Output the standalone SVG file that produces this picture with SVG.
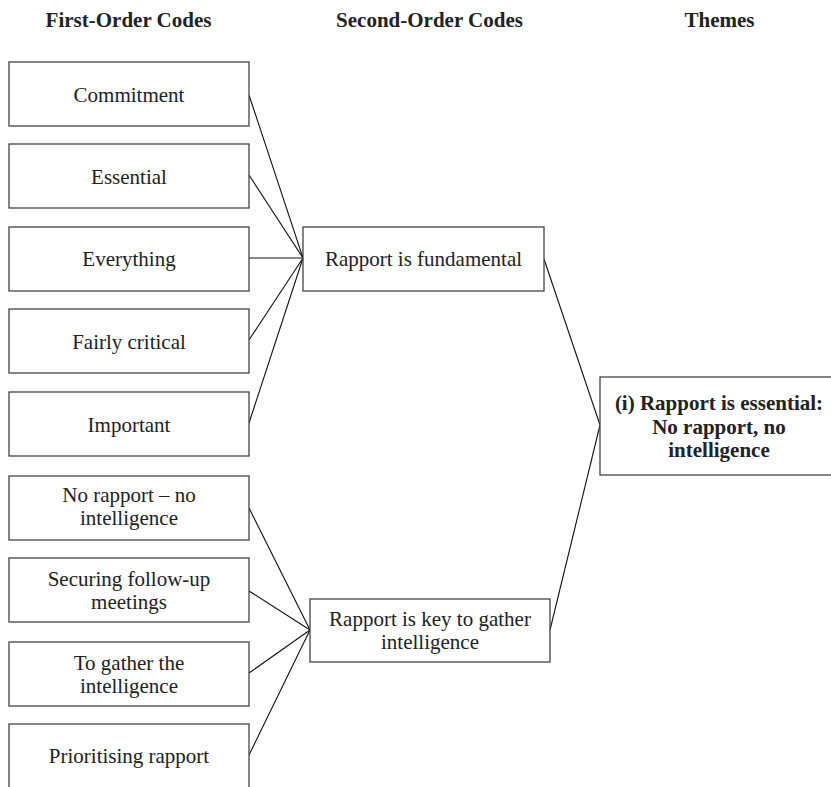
<svg xmlns="http://www.w3.org/2000/svg" width="831" height="787" viewBox="0 0 831 787">
<style>
.box{fill:#fff;stroke:#444;stroke-width:1.3}
.t{font-family:"Liberation Serif","Times New Roman",serif;font-size:21px;fill:#222;text-anchor:middle}
.h{font-family:"Liberation Serif","Times New Roman",serif;font-size:21px;font-weight:bold;fill:#222;text-anchor:middle}
.th{font-family:"Liberation Serif","Times New Roman",serif;font-size:21px;font-weight:bold;fill:#222;text-anchor:middle}
.c{stroke:#111;stroke-width:1.1;fill:none}
</style>
<rect width="831" height="787" fill="#fff"/>
<g id="headers">
<text class="h" x="128.5" y="27">First-Order Codes</text>
<text class="h" x="429.5" y="27">Second-Order Codes</text>
<text class="h" x="719.5" y="27">Themes</text>
</g>
<g id="connectors">
<line class="c" x1="249" y1="95" x2="303" y2="258"/>
<line class="c" x1="249" y1="175" x2="303" y2="258"/>
<line class="c" x1="249" y1="258" x2="303" y2="258" stroke-width="2"/>
<line class="c" x1="249" y1="340" x2="303" y2="258"/>
<line class="c" x1="249" y1="423" x2="303" y2="258"/>
<line class="c" x1="249" y1="508" x2="310" y2="630"/>
<line class="c" x1="249" y1="591" x2="310" y2="630"/>
<line class="c" x1="249" y1="673" x2="310" y2="630"/>
<line class="c" x1="249" y1="755" x2="310" y2="630"/>
<line class="c" x1="544" y1="259" x2="600" y2="425"/>
<line class="c" x1="550" y1="630" x2="600" y2="425"/>
</g>
<g id="n1"><rect class="box" x="9" y="62" width="240" height="64"/><text class="t" x="129" y="101.5">Commitment</text></g>
<g id="n2"><rect class="box" x="9" y="144" width="240" height="64"/><text class="t" x="129" y="183.5">Essential</text></g>
<g id="n3"><rect class="box" x="9" y="227" width="240" height="64"/><text class="t" x="129" y="266">Everything</text></g>
<g id="n4"><rect class="box" x="9" y="309" width="240" height="64"/><text class="t" x="129" y="348.5">Fairly critical</text></g>
<g id="n5"><rect class="box" x="9" y="392" width="240" height="64"/><text class="t" x="129" y="431.5">Important</text></g>
<g id="n6"><rect class="box" x="9" y="476" width="240" height="64"/><text class="t" x="129" y="502">No rapport – no</text><text class="t" x="129" y="525">intelligence</text></g>
<g id="n7"><rect class="box" x="9" y="558" width="240" height="64"/><text class="t" x="129" y="586">Securing follow-up</text><text class="t" x="129" y="608.5">meetings</text></g>
<g id="n8"><rect class="box" x="9" y="642" width="240" height="64"/><text class="t" x="129" y="670">To gather the</text><text class="t" x="129" y="692.5">intelligence</text></g>
<g id="n9"><rect class="box" x="9" y="724" width="240" height="70"/><text class="t" x="129" y="763">Prioritising rapport</text></g>
<g id="s1"><rect class="box" x="303" y="227" width="241" height="64"/><text class="t" x="423.5" y="266">Rapport is fundamental</text></g>
<g id="s2"><rect class="box" x="310" y="599" width="240" height="63"/><text class="t" x="430" y="626">Rapport is key to gather</text><text class="t" x="430" y="649">intelligence</text></g>
<g id="t1"><rect class="box" x="600" y="377" width="245" height="98"/><text class="th" x="719" y="410">(i) Rapport is essential:</text><text class="th" x="719" y="434">No rapport, no</text><text class="th" x="719" y="457">intelligence</text></g>
</svg>
